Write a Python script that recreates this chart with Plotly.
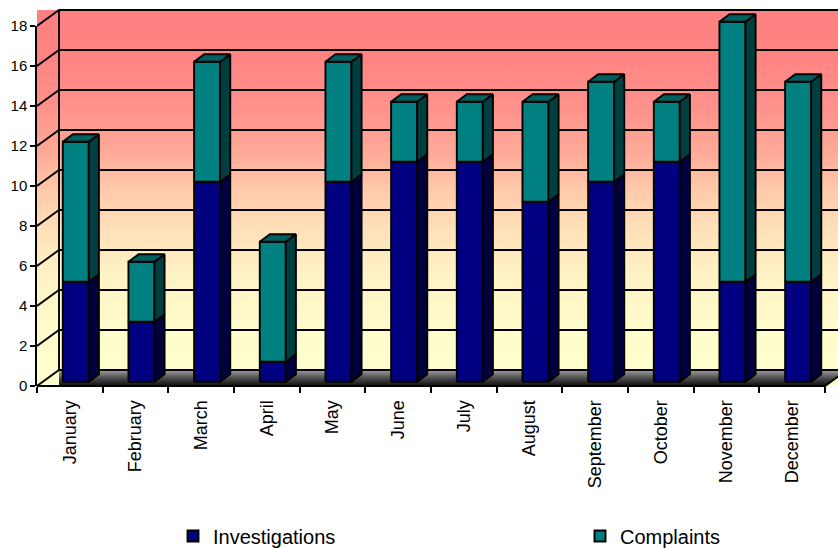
import plotly.graph_objects as go

# ---------------- data ----------------
months = ["January", "February", "March", "April", "May", "June", "July",
          "August", "September", "October", "November", "December"]
investigations = [5, 3, 10, 1, 10, 11, 11, 9, 10, 11, 5, 5]
complaints = [7, 3, 6, 6, 6, 3, 3, 5, 5, 3, 13, 10]
y_ticks = [0, 2, 4, 6, 8, 10, 12, 14, 16, 18]

# ---------------- geometry / style ----------------
W, H = 838, 548
L_MARGIN = 37
B_MARGIN = 156
PX_CAT = 65.67          # pixels per category
PX_UNIT = 20.0          # pixels per value unit
PLOT_H = H - B_MARGIN
FRONT_OFF = 6           # px between plot bottom and front zero line
N = len(months)
YMAX = y_ticks[-1]
XR = (W - L_MARGIN) / PX_CAT
Y0 = -FRONT_OFF / PX_UNIT
Y1 = Y0 + PLOT_H / PX_UNIT
DX = 22 / PX_CAT        # depth offset in category units
DY = 16 / PX_UNIT       # depth offset in value units
F0, F1 = 0.27, 0.73     # bar depth range (fraction of full depth)
HW = 0.198              # half bar width
LW = 1.9
FONT = "Liberation Sans, Arial, sans-serif"

NAVY, NAVY_SIDE = "#000080", "#00003f"
TEAL, TEAL_SIDE, TEAL_TOP = "#008080", "#003f3f", "#006060"


def add_poly(xs, ys, pts):
    for (px, py) in pts + [pts[0]]:
        xs.append(px)
        ys.append(py)
    xs.append(None)
    ys.append(None)


fig = go.Figure()

# back / side wall background with gradient
bx, by = [], []
add_poly(bx, by, [(0, 0), (XR, 0), (XR, YMAX + DY), (0, YMAX + DY)])
fig.add_trace(go.Scatter(
    x=bx, y=by, mode="lines", fill="toself", line=dict(width=0),
    fillgradient=dict(type="vertical", start=0, stop=YMAX + DY, colorscale=[
        [0.0, "rgb(255,255,204)"], [0.15, "rgb(255,252,204)"],
        [0.30, "rgb(255,242,197)"], [0.42, "rgb(255,224,185)"],
        [0.52, "rgb(255,202,170)"], [0.62, "rgb(255,170,152)"],
        [0.74, "rgb(255,146,140)"], [0.86, "rgb(255,133,131)"],
        [1.0, "rgb(255,128,128)"]]),
    hoverinfo="skip", showlegend=False))

# floor
fx, fy = [], []
add_poly(fx, fy, [(DX, 0), (N, 0), (N + DX, DY), (DX, DY)])
fig.add_trace(go.Scatter(
    x=fx, y=fy, mode="lines", fill="toself", line=dict(width=0),
    fillgradient=dict(type="vertical", start=0, stop=DY, colorscale=[
        [0.0, "rgb(15,15,15)"], [0.45, "rgb(70,70,70)"], [1.0, "rgb(160,160,160)"]]),
    hoverinfo="skip", showlegend=False))

# grid lines (side wall diagonals + back wall horizontals) and edges
gx, gy = [], []
for v in y_ticks:
    gx += [0, DX, XR, None]
    gy += [v, v + DY, v + DY, None]
gx += [DX, DX, None, 0, N, N + DX, None]
gy += [DY, YMAX + DY, None, 0, 0, DY, None]
fig.add_trace(go.Scatter(x=gx, y=gy, mode="lines",
                         line=dict(color="black", width=LW),
                         hoverinfo="skip", showlegend=False))

# bars
ddx, ddy = (F1 - F0) * DX, (F1 - F0) * DY
faces = {k: ([], []) for k in ["inv_front", "inv_side", "com_front", "com_side", "com_top"]}
for i in range(N):
    segs = [("inv", 0, investigations[i]),
            ("com", investigations[i], investigations[i] + complaints[i])]
    for name, base, top in segs:
        x0 = i + 0.5 - HW + F0 * DX
        x1 = i + 0.5 + HW + F0 * DX
        y0 = base + F0 * DY
        y1 = top + F0 * DY
        add_poly(*faces[name + "_front"], [(x0, y0), (x1, y0), (x1, y1), (x0, y1)])
        add_poly(*faces[name + "_side"], [(x1, y0), (x1 + ddx, y0 + ddy),
                                          (x1 + ddx, y1 + ddy), (x1, y1)])
        if name == "com":
            add_poly(*faces["com_top"], [(x0, y1), (x1, y1),
                                         (x1 + ddx, y1 + ddy), (x0 + ddx, y1 + ddy)])

colors = {"inv_front": NAVY, "inv_side": NAVY_SIDE, "com_front": TEAL,
          "com_side": TEAL_SIDE, "com_top": TEAL_TOP}
for k in ["inv_front", "inv_side", "com_front", "com_side", "com_top"]:
    xs, ys = faces[k]
    fig.add_trace(go.Scatter(x=xs, y=ys, mode="lines", fill="toself",
                             fillcolor=colors[k],
                             line=dict(color="black", width=LW),
                             hoverinfo="skip", showlegend=False))

# legend entries (one legend each, placed like the original)
for name, col, leg in [("Investigations", NAVY, "legend"), ("Complaints", TEAL, "legend2")]:
    fig.add_trace(go.Scatter(x=[None], y=[None], mode="markers", name=name,
                             yaxis="y2", legend=leg,
                             marker=dict(symbol="square", size=11, color=col,
                                         line=dict(color="black", width=1.9))))

leg_common = dict(orientation="h", xref="container", yref="container",
                  xanchor="left", yanchor="middle", y=12 / H,
                  font=dict(size=20, family=FONT), bgcolor="rgba(0,0,0,0)")

fig.update_layout(
    template="none",
    width=W, height=H,
    margin=dict(l=L_MARGIN, r=0, t=0, b=B_MARGIN, autoexpand=False),
    paper_bgcolor="white", plot_bgcolor="rgba(0,0,0,0)",
    font=dict(family=FONT, color="black"),
    hovermode=False,
    xaxis=dict(range=[0, XR], domain=[0, 1], anchor="y2", automargin=False,
               showline=False, showgrid=False, zeroline=False,
               tickmode="array", tickvals=[i + 0.5 for i in range(N)],
               ticktext=months, tickangle=-90, tickfont=dict(size=18, family=FONT),
               ticks="outside", ticklen=6, tickcolor="rgba(0,0,0,0)",
               minor=dict(tickmode="array", tickvals=list(range(N + 1)),
                          ticks="outside", ticklen=6, tickwidth=1.5,
                          tickcolor="black", showgrid=False)),
    yaxis=dict(range=[Y0, Y1], domain=[0, 1], visible=False, fixedrange=True,
               automargin=False),
    yaxis2=dict(range=[0, YMAX], automargin=False,
                domain=[FRONT_OFF / PLOT_H, (FRONT_OFF + YMAX * PX_UNIT) / PLOT_H],
                anchor="x", showline=True, linecolor="black", linewidth=1.5,
                ticks="outside", ticklen=5, tickwidth=1.5, tickcolor="black",
                tickmode="array", tickvals=y_ticks,
                tickfont=dict(size=15, family=FONT),
                showgrid=False, zeroline=False),
    legend=dict(leg_common, x=173 / W),
    legend2=dict(leg_common, x=580 / W),
)

fig.write_html("out.html")
